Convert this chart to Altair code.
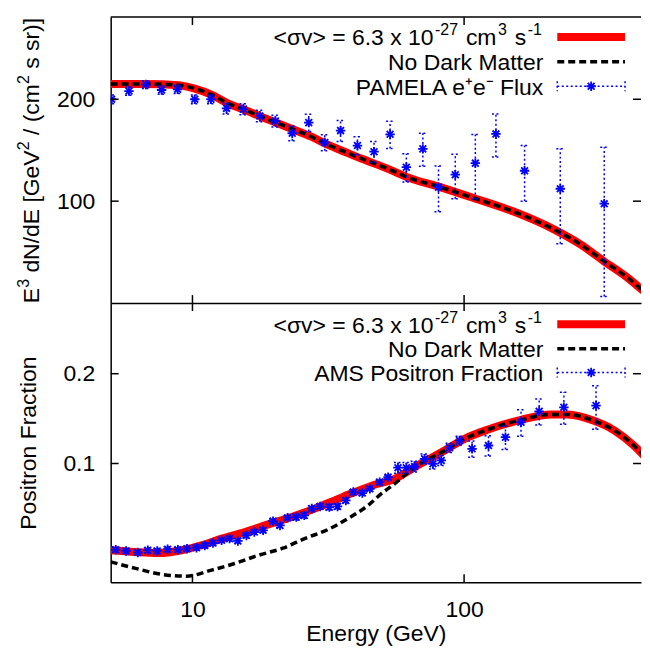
import altair as alt
import pandas as pd

# ---------------- data ----------------
x_domain = [5, 448]
x_ticks = [10, 100]
top_domain = [50, 350]
top_ticks = [100, 200]
bot_domain = [0.04, 0.345]
bot_ticks = [0.1, 0.2]

# top panel curves (E^3 dN/dE)
top_E = [5, 6.7, 8.9, 10.2, 11.8, 13.5, 15.6, 17.9, 20.7, 23.8, 27.4, 31.6, 36.3, 41.8,
         48.2, 55.4, 61.3, 80, 109, 153, 215, 269, 327, 400, 473, 500]
top_dm = [222, 222, 220, 215, 206, 194.5, 186, 177.6, 169.6, 162.3, 155, 146.6, 140, 133.7,
          128, 122.3, 118, 110.6, 102, 93, 82.4, 74.4, 66.5, 59.4, 53, 51]
top_nodm = [222, 222, 220, 215, 206, 194.5, 186, 177.6, 169.6, 162.3, 155, 146.6, 140, 133.7,
            128, 122.3, 118, 110.6, 102, 93, 82.4, 74.4, 66.5, 59.4, 53, 51]

# PAMELA e+e- flux
pam_E = [5.04, 5.84, 6.74, 7.70, 8.82, 10.2, 11.7, 13.35, 15.4, 17.7, 20.2, 23.3, 26.8, 30.7,
         35.1, 40.5, 46.6, 53.4, 61.3, 70.5, 80.5, 92.8, 110, 131, 167, 226, 328]
pam_v = [200, 211.5, 221, 213, 214, 200, 200, 188, 187, 178.5, 172.5, 158.7, 170.6, 149,
         161.6, 146, 140, 157.6, 126, 142.7, 110, 119.7, 129.5, 158, 123, 108.8, 98.3]
pam_err = [6, 6, 6, 6, 6, 6, 6, 7, 7, 7, 7, 8, 10, 8, 11.5, 9, 10, 14.5, 12, 16, 17, 18,
           28, 23, 23, 34, 46]

# bottom panel curves (positron fraction)
bot_dm_E = [5, 6.14, 7.49, 9.12, 10.8, 12.8, 15.6, 19, 23.2, 28.2, 33.4, 39.6, 48.2, 54,
            65.7, 82.6, 100.4, 122.6, 162, 209, 241, 301, 358, 421, 488, 500]
bot_dm = [0.0512, 0.0505, 0.0501, 0.0512, 0.0532, 0.056, 0.0589, 0.0625, 0.0662, 0.0706,
          0.0752, 0.0802, 0.0855, 0.0878, 0.0972, 0.109, 0.121, 0.130, 0.140, 0.146, 0.146,
          0.139, 0.129, 0.115, 0.0996, 0.097]
bot_nodm_E = [5, 6.23, 7.70, 9.51, 11.76, 14.3, 17.45, 21.5, 25.9, 31.6, 37.5, 44.3, 49.6,
              56.3, 65.7, 82.6, 100.4, 122.6, 162, 209, 241, 301, 358, 421, 488, 500]
bot_nodm = [0.0468, 0.0444, 0.0425, 0.0419, 0.0439, 0.0462, 0.0492, 0.052, 0.056, 0.0601,
            0.0655, 0.0724, 0.0792, 0.0864, 0.0972, 0.109, 0.121, 0.130, 0.140, 0.146, 0.146,
            0.139, 0.129, 0.115, 0.0996, 0.097]

# AMS positron fraction
ams_E = [5.22, 5.70, 6.29, 6.85, 7.42, 8.10, 8.84, 9.55, 10.35, 11.1, 11.9, 12.8, 13.7, 14.7,
         15.8, 16.9, 18.2, 19.8, 21.0, 22.4, 24.1, 25.8, 27.5, 29.5, 31.9, 34.2, 36.7, 39.1,
         42.2, 45.0, 48.9, 52.5, 57.1, 61.3, 65.7, 71.5, 76.8, 82.4, 88.4, 96.2, 107, 123,
         142, 162, 189, 233, 306]
ams_v = [0.0514, 0.0509, 0.0503, 0.0512, 0.0509, 0.0516, 0.0514, 0.0518, 0.0522, 0.0531,
         0.0541, 0.0553, 0.056, 0.055, 0.0574, 0.0589, 0.0597, 0.0641, 0.062, 0.0658, 0.0661,
         0.067, 0.0706, 0.0718, 0.0714, 0.0718, 0.0752, 0.0802, 0.0796, 0.0823, 0.0866, 0.090,
         0.0968, 0.0968, 0.0977, 0.1037, 0.0998, 0.1024, 0.1129, 0.1194, 0.112, 0.1149,
         0.1225, 0.1375, 0.1496, 0.1543, 0.1563]
ams_err = [0.001] * 20 + [0.0015] * 12 + [0.004] * 8 + [0.007, 0.009, 0.011, 0.014, 0.015,
                                                        0.019, 0.026]

# text pieces: (text, is_superscript)
dm_label = [("<σv> = 6.3 x 10", False), ("-27", True), (" cm", False), ("3", True),
            (" s", False), ("-1", True)]
nodm_label = [("No Dark Matter", False)]
pam_label = [("PAMELA e⁺e⁻ Flux", False)]
ams_label = [("AMS Positron Fraction", False)]
top_ytitle = [("E", False), ("3", True), (" dN/dE [GeV", False), ("2", True),
              (" / (cm", False), ("2", True), (" s sr)]", False)]

# ---------------- style ----------------
W, H1, H2 = 532, 287, 280
FONT = "Liberation Sans"
FS, SFS, RAISE, GAP = 23, 16, 10, 1.5
RED, BLUE, BLACK = "#ff0000", "#0000ff", "#000000"
STAR = "M-1,0L1,0M0,-1L0,1M-0.72,-0.72L0.72,0.72M-0.72,0.72L0.72,-0.72"
TICK = 8
one = alt.Data(values=[{"k": 0}])

# Arial / Liberation Sans advance widths (1/1000 em), for placing superscripts
ADV = {" ": 278, "c": 500, "m": 833, "s": 500, "r": 333, ")": 333, "]": 278, "(": 333,
       "/": 278, "d": 556, "N": 722, "E": 667, "[": 278, "G": 778, "e": 556, "V": 667,
       "-": 333, "+": 584, "F": 611, "l": 222, "u": 556, "x": 500}


def adv(s, fs):
    return sum(ADV.get(c, 556) for c in s) * fs / 1000.0


def key_text(pieces, right_x, base_y):
    """right-aligned run of text pieces ending at right_x, baseline base_y"""
    out = []
    x = right_x
    for txt, sup in reversed(pieces):
        fs = SFS if sup else FS
        if sup:
            x -= GAP
        out.append(alt.Chart(one).mark_text(text=txt.strip(), align="right",
                                            baseline="alphabetic", font=FONT, fontSize=fs,
                                            color=BLACK)
                   .encode(x=alt.value(x), y=alt.value(base_y - (RAISE if sup else 0))))
        x -= adv(txt, fs)
        if sup:
            x -= GAP
    return out


def vertical_text(pieces, base_x, center_y):
    total = sum(adv(t, SFS if s else FS) for t, s in pieces)
    y = center_y + total / 2
    out = []
    for txt, sup in pieces:
        fs = SFS if sup else FS
        lead = txt[: len(txt) - len(txt.lstrip())]
        y -= adv(lead, fs)
        body = txt.lstrip()
        out.append(alt.Chart(one).mark_text(text=body, align="left", baseline="alphabetic",
                                            angle=270, font=FONT, fontSize=fs, color=BLACK)
                   .encode(x=alt.value(base_x - (RAISE if sup else 0)), y=alt.value(y)))
        y -= adv(body, fs)
    return out


xscale = alt.Scale(type="log", domain=x_domain)
top_xaxis = alt.Axis(labels=False, ticks=False, title=None, grid=False, domain=True)
bot_xaxis = alt.Axis(values=x_ticks, format="d", ticks=False, grid=False, labelPadding=16,
                     title="Energy (GeV)", titlePadding=1, labelFontSize=FS)


def panel(h, yscale, yaxis, xaxis, curves, pts, ticks_y, labels, leg_y, with_top_border,
          extra=()):
    layers = []
    X = lambda f: alt.X(f, type="quantitative", scale=xscale, axis=xaxis)
    Y = lambda f: alt.Y(f, type="quantitative", scale=yscale, axis=yaxis)
    (dmE, dmv), (ndE, ndv) = curves
    dfdm = pd.DataFrame({"E": dmE, "v": dmv})
    dfnd = pd.DataFrame({"E": ndE, "v": ndv})
    layers.append(alt.Chart(dfdm).mark_line(color=RED, strokeWidth=8, clip=True,
                                            interpolate="monotone")
                  .encode(x=X("E"), y=Y("v")))
    layers.append(alt.Chart(dfnd).mark_line(color=BLACK, strokeWidth=3.5, strokeDash=[7, 4],
                                            clip=True, interpolate="monotone")
                  .encode(x=X("E"), y=Y("v")))
    pE, pv, pe = pts
    dfp = pd.DataFrame({"E": pE, "v": pv, "lo": [a - b for a, b in zip(pv, pe)],
                        "hi": [a + b for a, b in zip(pv, pe)]})
    layers.append(alt.Chart(dfp).mark_rule(color=BLUE, strokeWidth=1.5, strokeDash=[2, 2.5],
                                           clip=True)
                  .encode(x=X("E"), y=Y("lo"), y2="hi"))
    for f in ["lo", "hi"]:
        layers.append(alt.Chart(dfp).mark_rule(color=BLUE, strokeWidth=1.5,
                                               strokeDash=[2, 2.5], xOffset=-4, x2Offset=4,
                                               clip=True)
                      .encode(x=X("E"), x2="E", y=Y(f)))
    layers.append(alt.Chart(dfp).mark_point(shape=STAR, filled=False, size=90, strokeWidth=1.8,
                                            color=BLUE, opacity=1, clip=True)
                  .encode(x=X("E"), y=Y("v")))
    # inward ticks
    dfx = pd.DataFrame({"t": x_ticks})
    layers.append(alt.Chart(dfx).mark_rule(color=BLACK, strokeWidth=1.5)
                  .encode(x=X("t"), y=alt.value(h), y2=alt.value(h - TICK)))
    layers.append(alt.Chart(dfx).mark_rule(color=BLACK, strokeWidth=1.5)
                  .encode(x=X("t"), y=alt.value(0), y2=alt.value(TICK)))
    dfy = pd.DataFrame({"t": ticks_y})
    layers.append(alt.Chart(dfy).mark_rule(color=BLACK, strokeWidth=1.5)
                  .encode(y=Y("t"), x=alt.value(0), x2=alt.value(TICK)))
    layers.append(alt.Chart(dfy).mark_rule(color=BLACK, strokeWidth=1.5)
                  .encode(y=Y("t"), x=alt.value(W - TICK), x2=alt.value(W)))
    if with_top_border:
        layers.append(alt.Chart(one).mark_rule(color=BLACK, strokeWidth=1.5)
                      .encode(x=alt.value(0), x2=alt.value(W), y=alt.value(0)))
    # key
    tx, sx1, sx2 = 434, 448, 516
    for lab, yy in zip(labels, leg_y):
        layers.extend(key_text(lab, tx, yy + 8.5))
    layers.append(alt.Chart(one).mark_rule(color=RED, strokeWidth=8)
                  .encode(x=alt.value(sx1), x2=alt.value(sx2), y=alt.value(leg_y[0])))
    layers.append(alt.Chart(one).mark_rule(color=BLACK, strokeWidth=3.5, strokeDash=[7, 4])
                  .encode(x=alt.value(sx1), x2=alt.value(sx2), y=alt.value(leg_y[1])))
    layers.append(alt.Chart(one).mark_rule(color=BLUE, strokeWidth=1.5, strokeDash=[2, 2.5])
                  .encode(x=alt.value(sx1), x2=alt.value(sx2), y=alt.value(leg_y[2])))
    for xx in [sx1, sx2]:
        layers.append(alt.Chart(one).mark_rule(color=BLUE, strokeWidth=1.5, strokeDash=[2, 2.5])
                      .encode(x=alt.value(xx), y=alt.value(leg_y[2] - 5),
                              y2=alt.value(leg_y[2] + 5)))
    layers.append(alt.Chart(one).mark_point(shape=STAR, filled=False, size=90, strokeWidth=1.8,
                                            color=BLUE, opacity=1)
                  .encode(x=alt.value((sx1 + sx2) / 2), y=alt.value(leg_y[2])))
    layers.extend(extra)
    return alt.layer(*layers).properties(width=W, height=h)


top_yaxis = alt.Axis(values=top_ticks, format="d", ticks=False, grid=False, labelPadding=16,
                     title=None)
bot_yaxis = alt.Axis(values=bot_ticks, format=".1f", ticks=False, grid=False, labelPadding=16,
                     title="Positron Fraction", titleX=-75.5, titleY=H2 / 2,
                     titleBaseline="alphabetic", titleAngle=270)

top = panel(H1, alt.Scale(type="log", domain=top_domain), top_yaxis, top_xaxis,
            ((top_E, top_dm), (top_E, top_nodm)), (pam_E, pam_v, pam_err), top_ticks,
            [dm_label, nodm_label, pam_label], [20, 45, 69.5], True,
            extra=vertical_text(top_ytitle, -71.5, 144))
bot = panel(H2, alt.Scale(type="log", domain=bot_domain), bot_yaxis, bot_xaxis,
            ((bot_dm_E, bot_dm), (bot_nodm_E, bot_nodm)), (ams_E, ams_v, ams_err), bot_ticks,
            [dm_label, nodm_label, ams_label], [21.3, 45.7, 69.7], False)

chart = (alt.vconcat(top, bot, spacing=0, bounds="flush")
         .properties(padding={"left": 8, "top": 7, "right": 0, "bottom": 0})
         .configure_view(stroke=None)
         .configure_axis(domainColor=BLACK, domainWidth=1.5, labelColor=BLACK,
                         titleColor=BLACK, labelFont=FONT, titleFont=FONT, labelFontSize=FS,
                         titleFontSize=FS, titleFontWeight="normal", labelOverlap=False))

chart.save("out.html", embed_options={"renderer": "svg", "actions": False})
